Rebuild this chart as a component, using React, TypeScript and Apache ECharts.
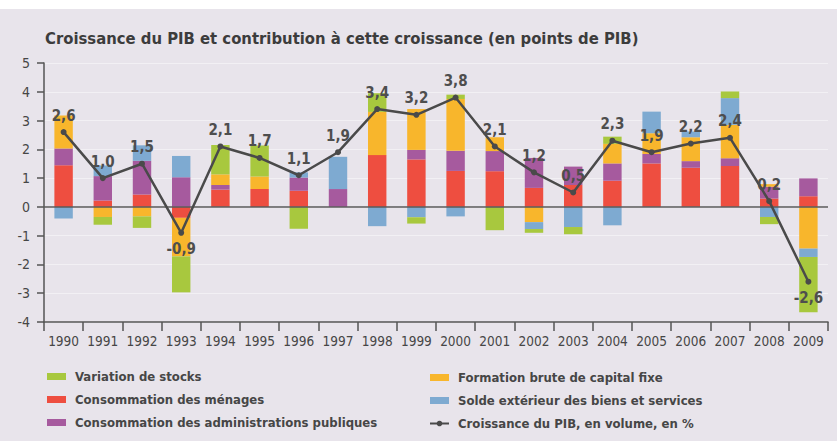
import React, { useEffect, useRef } from "react";
import * as echarts from "echarts";

const years = ["1990","1991","1992","1993","1994","1995","1996","1997","1998","1999","2000","2001","2002","2003","2004","2005","2006","2007","2008","2009"];
const menages = [1.45,0.22,0.43,-0.38,0.6,0.62,0.56,0,1.8,1.65,1.25,1.24,0.66,0.76,0.91,1.51,1.36,1.42,0.29,0.37];
const admin = [0.58,0.85,1.17,1.03,0.16,0,0.46,0.62,0,0.33,0.7,0.7,1.04,0.64,0.6,0.33,0.23,0.27,0.41,0.62];
const fbcf = [1.15,-0.35,-0.33,-1.34,0.37,0.44,0,0,1.5,1.42,1.8,0.48,-0.53,0,0.68,0.72,0.83,1.16,0.09,-1.45];
const solde = [-0.4,0.37,0.54,0.74,0,0,0.18,1.12,-0.67,-0.36,-0.33,0,-0.24,-0.7,-0.64,0.75,0.2,0.93,-0.35,-0.29];
const stocks = [0,-0.27,-0.4,-1.25,1.02,1.07,-0.76,0,0.65,-0.22,0.15,-0.81,-0.13,-0.25,0.25,0,0,0.23,-0.25,-1.92];
const pib = [2.6,1.0,1.5,-0.9,2.1,1.7,1.1,1.9,3.4,3.2,3.8,2.1,1.2,0.5,2.3,1.9,2.2,2.4,0.2,-2.6];
const yTicks = [-4,-3,-2,-1,0,1,2,3,4,5];

const N_STOCKS = "Variation de stocks";
const N_MEN = "Consommation des ménages";
const N_ADM = "Consommation des administrations publiques";
const N_FBCF = "Formation brute de capital fixe";
const N_SOLDE = "Solde extérieur des biens et services";
const N_PIB = "Croissance du PIB, en volume, en %";

const FONT = '"Liberation Sans Narrow", "DejaVu Sans Condensed", "Roboto Condensed", "Open Sans", sans-serif';
const TXT = "#464646";

export default function App() {
  const ref = useRef<HTMLDivElement>(null);
  useEffect(() => {
    if (!ref.current) return;
    const chart = echarts.init(ref.current, undefined, { renderer: "svg" });
    const barSeries = (name: string, data: number[], color: string) => ({
      name,
      type: "bar",
      stack: "contrib",
      data,
      barWidth: "47%",
      itemStyle: { color },
      emphasis: { disabled: true },
    });
    const legendText = { fontFamily: FONT, fontSize: 13, fontWeight: "bold", color: TXT, padding: [0, 0, 0, 4] };
    chart.setOption({
      animation: false,
      backgroundColor: "#e8e4eb",
      textStyle: { fontFamily: FONT },
      title: {
        text: "Croissance du PIB et contribution à cette croissance (en points de PIB)",
        left: 40,
        top: 25,
        textStyle: { fontFamily: FONT, fontSize: 16.5, fontWeight: "bold", color: "#3c3c3c" },
      },
      graphic: [
        { type: "rect", left: 0, top: 0, shape: { width: 837, height: 9 }, style: { fill: "#ffffff" }, silent: true },
      ],
      legend: [
        {
          orient: "vertical",
          left: 42,
          top: 365,
          itemWidth: 19,
          itemHeight: 7,
          itemGap: 10,
          selectedMode: false,
          textStyle: legendText,
          data: [
            { name: N_STOCKS, icon: "rect" },
            { name: N_MEN, icon: "rect" },
            { name: N_ADM, icon: "rect" },
          ],
        },
        {
          orient: "vertical",
          left: 424,
          top: 366,
          itemWidth: 19,
          itemHeight: 7,
          itemGap: 10,
          selectedMode: false,
          textStyle: legendText,
          data: [
            { name: N_FBCF, icon: "rect" },
            { name: N_SOLDE, icon: "rect" },
            { name: N_PIB },
          ],
        },
      ],
      grid: { left: 44, right: 9, top: 63, bottom: 119 },
      xAxis: {
        type: "category",
        data: years,
        axisLine: { onZero: false, lineStyle: { color: "#555", width: 1.5 } },
        axisTick: { show: true, length: 9, lineStyle: { color: "#555", width: 1.5 } },
        axisLabel: { fontFamily: FONT, fontSize: 13.5, color: TXT, margin: 12, interval: 0 },
      },
      yAxis: {
        type: "value",
        min: -4,
        max: 5,
        interval: 1,
        axisLine: { show: true, lineStyle: { color: "#555", width: 1.5 } },
        axisTick: { show: true, length: 7, lineStyle: { color: "#555", width: 1.5 } },
        axisLabel: {
          fontFamily: FONT,
          fontSize: 14,
          color: TXT,
          margin: 14,
          formatter: (v: number) => (yTicks.includes(v) ? String(v) : ""),
        },
        splitLine: { show: true, lineStyle: { color: "rgba(255,255,255,0.45)", width: 1 } },
      },
      series: [
        barSeries(N_MEN, menages, "#ee4e40"),
        barSeries(N_ADM, admin, "#a65a9e"),
        barSeries(N_FBCF, fbcf, "#f8b62c"),
        barSeries(N_SOLDE, solde, "#7eaad1"),
        barSeries(N_STOCKS, stocks, "#a8c83e"),
        {
          name: N_PIB,
          type: "line",
          data: pib.map((v) => ({
            value: v,
            label: { position: v < 0 ? "bottom" : "top" },
          })),
          z: 5,
          symbol: "circle",
          symbolSize: 6,
          lineStyle: { color: "#4a4a4a", width: 2.5 },
          itemStyle: { color: "#4a4a4a" },
          emphasis: { disabled: true },
          label: {
            show: true,
            distance: 6,
            fontFamily: FONT,
            fontSize: 15,
            fontWeight: "bold",
            color: "#4e4e4e",
            formatter: (p: any) => Number(p.value).toFixed(1).replace(".", ","),
          },
          markLine: {
            silent: true,
            symbol: ["none", "none"],
            label: { show: false },
            lineStyle: { color: "#5a5a5a", width: 1.5, type: "solid" },
            data: [{ yAxis: 0 }],
          },
        },
      ],
    });
    return () => chart.dispose();
  }, []);
  return (
    <div style={{ position: "fixed", left: 0, top: 0, width: 837, height: 441 }}>
      <div ref={ref} style={{ width: 837, height: 441 }} />
    </div>
  );
}
